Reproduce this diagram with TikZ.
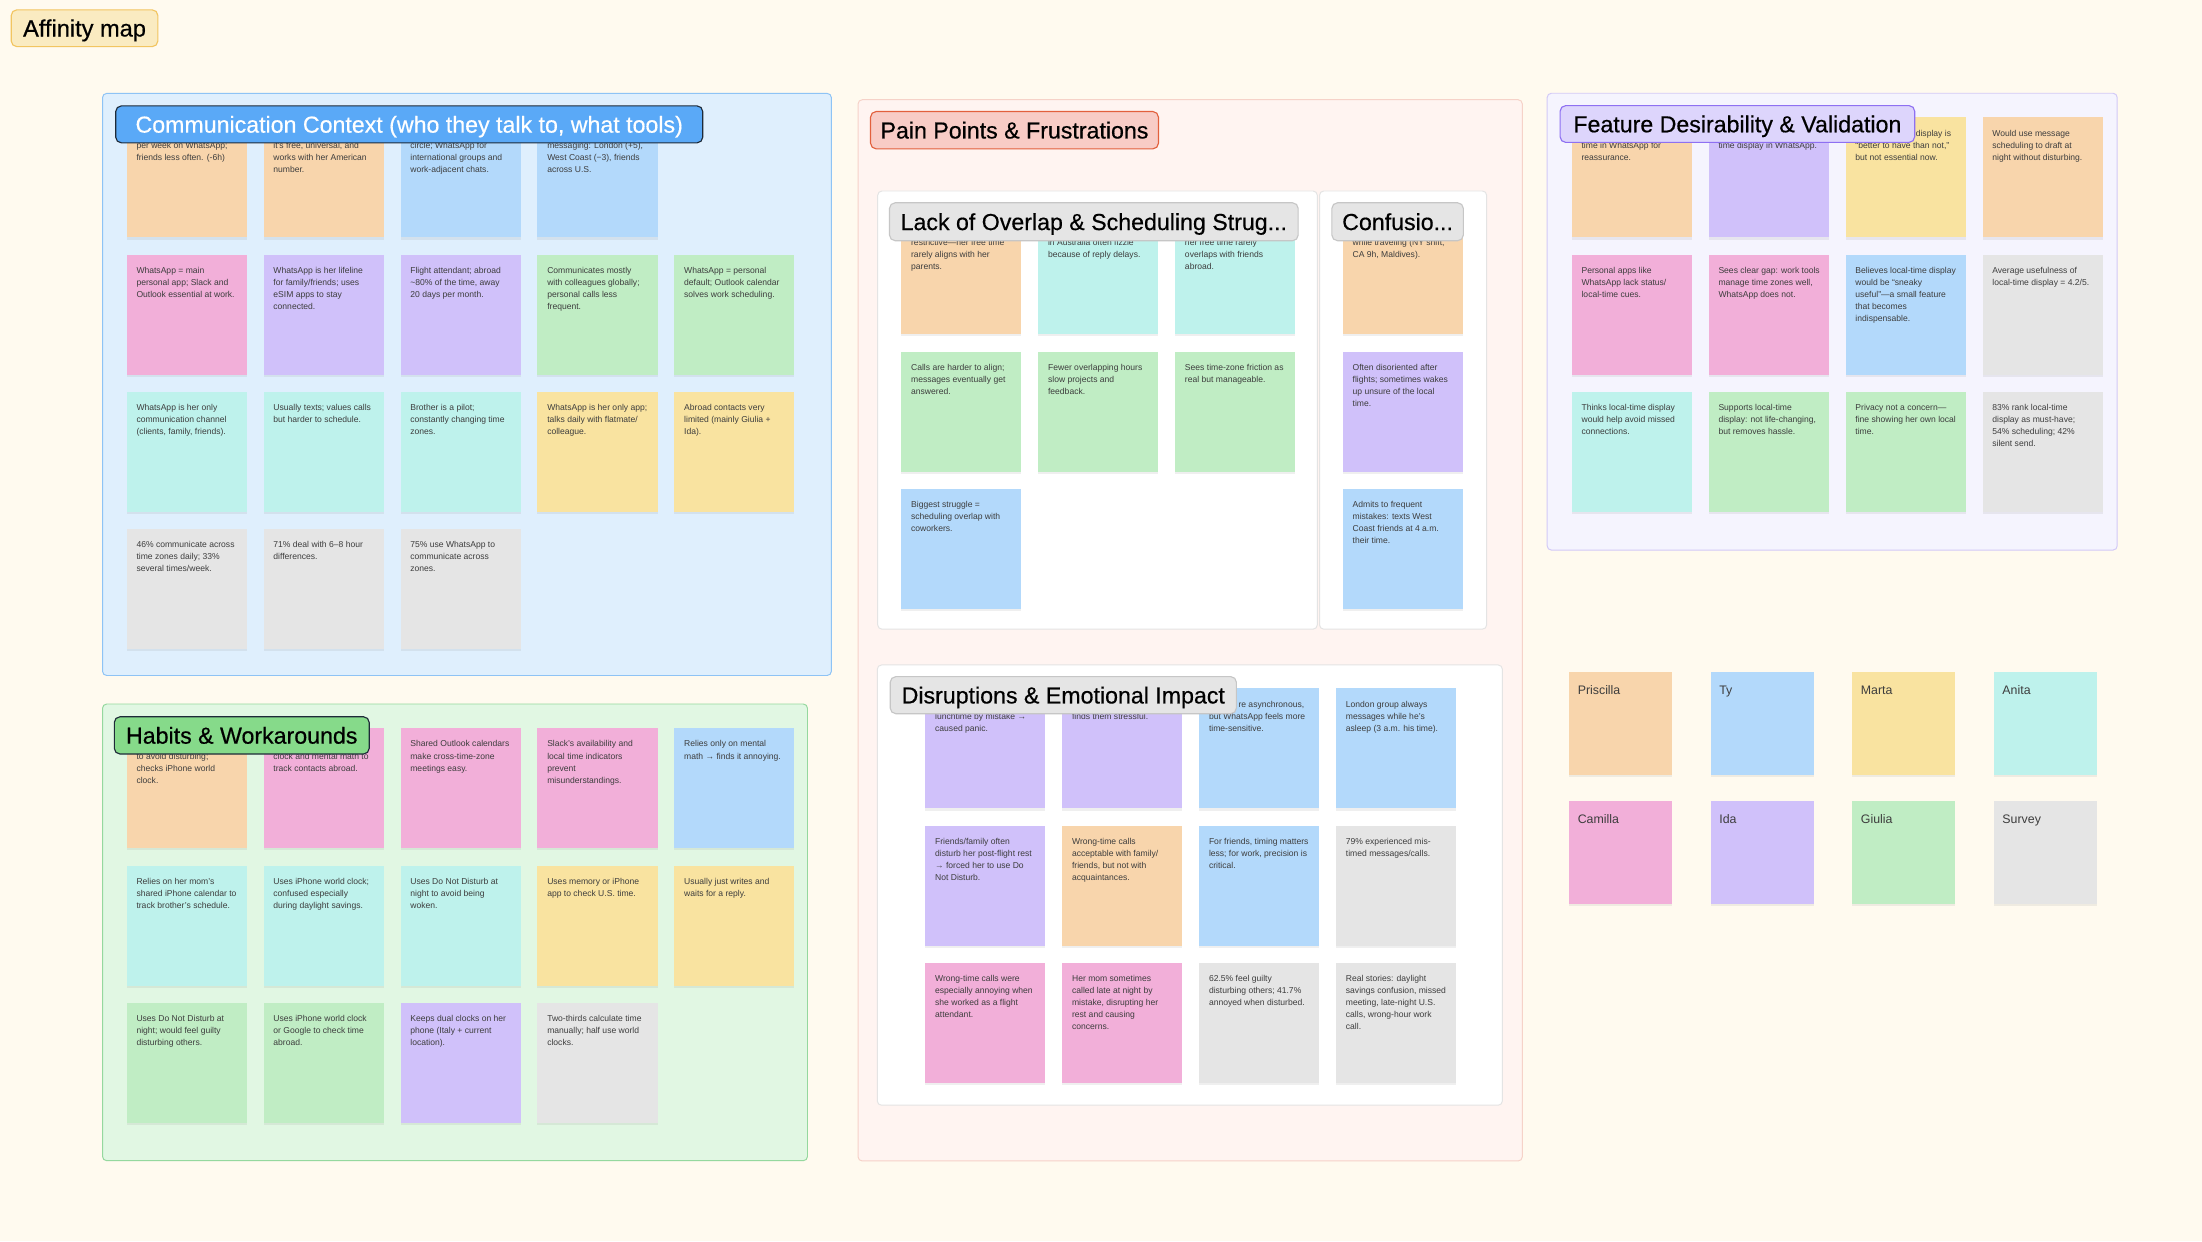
\documentclass[tikz,border=0pt]{standalone}
\usepackage{fontspec}
\setmainfont{Liberation Sans}
\newfontfamily\headfont{Liberation Sans}[FakeBold=0.5]
\usepackage{xcolor}
\usepackage{tikz}
\usetikzlibrary{positioning,shadows}

\definecolor{paper}{HTML}{FFFAEF}
\definecolor{inkNote}{HTML}{3D3D3D}
% sticky note colours (one per participant)
\definecolor{stOrange}{HTML}{F8D5AC}
\definecolor{stBlue}{HTML}{B3D9FB}
\definecolor{stYellow}{HTML}{F9E3A0}
\definecolor{stTeal}{HTML}{BEF2EC}
\definecolor{stPink}{HTML}{F2AFD9}
\definecolor{stPurple}{HTML}{D0C1FA}
\definecolor{stGreen}{HTML}{C0EDC4}
\definecolor{stGray}{HTML}{E5E5E5}
% cluster colours
\definecolor{ccBg}{HTML}{DFEFFD}
\definecolor{ccLine}{HTML}{8EC3F5}
\definecolor{ccHead}{HTML}{5AA9F7}
\definecolor{hwBg}{HTML}{E1F7E3}
\definecolor{hwLine}{HTML}{95D89E}
\definecolor{hwHead}{HTML}{86DA8A}
\definecolor{ppBg}{HTML}{FFF4F1}
\definecolor{ppLine}{HTML}{F6D2C8}
\definecolor{ppHead}{HTML}{F8CCC6}
\definecolor{ppHeadLine}{HTML}{E2603D}
\definecolor{subLine}{HTML}{E4E4E4}
\definecolor{subHead}{HTML}{E5E5E5}
\definecolor{subHeadLine}{HTML}{C6C6C6}
\definecolor{fdBg}{HTML}{F5F4FE}
\definecolor{fdLine}{HTML}{D2C9F7}
\definecolor{fdHead}{HTML}{DDD5FC}
\definecolor{fdHeadLine}{HTML}{8E70F2}
\definecolor{amHead}{HTML}{FAEBC1}
\definecolor{amHeadLine}{HTML}{F2C561}
\definecolor{darkLine}{HTML}{1E2A38}

\newcommand\stickytext[1]{\parbox[t][85.5pt][t]{85.5pt}{\leftskip=7pt\rightskip=0pt plus 1fil\parindent=0pt\rule{0pt}{13.3pt}#1\par}}
\newcommand\keytext[1]{\parbox[t][73.3pt][t]{73.3pt}{\leftskip=6pt\rightskip=0pt plus 1fil\parindent=0pt\rule{0pt}{15.9pt}#1\par}}

\tikzset{
  sticky/.style={fill=#1, inner sep=0pt, text=inkNote,
                 font=\fontsize{6.1}{8.6}\selectfont,
                 drop shadow={shadow xshift=0pt, shadow yshift=-1.5pt, opacity=.12}},
  persona/.style={sticky=#1, font=\fontsize{8.8}{10}\selectfont},
  zone/.style n args={2}{fill=#1, draw=#2, rounded corners=3pt, line width=.7pt},
  zonehead/.style n args={3}{fill=#1, draw=#2, text=#3, rounded corners=4pt, line width=.8pt,
                 anchor=north west, inner xsep=7pt, inner ysep=0pt,
                 text height=11.8pt, text depth=0pt, font=\headfont\fontsize{16.5}{18}\selectfont}
}

\begin{document}
\begin{tikzpicture}[x=1pt, y=1pt, node distance=11.8pt and 11.6pt]
  \fill[paper] (0,0) rectangle (1568,-884);
  \useasboundingbox (0,0) rectangle (1568,-884);

  % cluster frames
  \draw[zone={ccBg}{ccLine}] (73,-66.5) rectangle (592,-481);
  \draw[zone={hwBg}{hwLine}] (73,-501.3) rectangle (575,-826.5);
  \draw[zone={ppBg}{ppLine}] (611,-71) rectangle (1084,-826.7);
  \draw[zone={white}{subLine}] (625,-136) rectangle (938,-448);
  \draw[zone={white}{subLine}] (939.6,-136) rectangle (1058.6,-448);
  \draw[zone={white}{subLine}] (624.7,-473.5) rectangle (1069.8,-787);
  \draw[zone={fdBg}{fdLine}] (1101.7,-66.4) rectangle (1507.6,-391.7);

  % Communication Context
  \node[sticky=stOrange, anchor=north west] (cc11) at (90,-83.4) {\stickytext{\mbox{}\\per week on WhatsApp;\\friends less often. (-6h)}};
  \node[sticky=stOrange, right=of cc11] (cc12) {\stickytext{\mbox{}\\it's free, universal, and\\works with her American\\number.}};
  \node[sticky=stBlue, right=of cc12] (cc13) {\stickytext{\mbox{}\\circle; WhatsApp for\\international groups and\\work-adjacent chats.}};
  \node[sticky=stBlue, right=of cc13] (cc14) {\stickytext{\mbox{}\\messaging: London (+5),\\West Coast (−3), friends\\across U.S.}};
  \node[sticky=stPink, below=of cc11] (cc21) {\stickytext{WhatsApp = main\\personal app; Slack and\\Outlook essential at work.}};
  \node[sticky=stPurple, right=of cc21] (cc22) {\stickytext{WhatsApp is her lifeline\\for family/friends; uses\\eSIM apps to stay\\connected.}};
  \node[sticky=stPurple, right=of cc22] (cc23) {\stickytext{Flight attendant; abroad\\\textasciitilde80\% of the time, away\\20 days per month.}};
  \node[sticky=stGreen, right=of cc23] (cc24) {\stickytext{Communicates mostly\\with colleagues globally;\\personal calls less\\frequent.}};
  \node[sticky=stGreen, right=of cc24] (cc25) {\stickytext{WhatsApp = personal\\default; Outlook calendar\\solves work scheduling.}};
  \node[sticky=stTeal, below=of cc21] (cc31) {\stickytext{WhatsApp is her only\\communication channel\\(clients, family, friends).}};
  \node[sticky=stTeal, right=of cc31] (cc32) {\stickytext{Usually texts; values calls\\but harder to schedule.}};
  \node[sticky=stTeal, right=of cc32] (cc33) {\stickytext{Brother is a pilot;\\constantly changing time\\zones.}};
  \node[sticky=stYellow, right=of cc33] (cc34) {\stickytext{WhatsApp is her only app;\\talks daily with flatmate/\\colleague.}};
  \node[sticky=stYellow, right=of cc34] (cc35) {\stickytext{Abroad contacts very\\limited (mainly Giulia +\\Ida).}};
  \node[sticky=stGray, below=of cc31] (cc41) {\stickytext{46\% communicate across\\time zones daily; 33\%\\several times/week.}};
  \node[sticky=stGray, right=of cc41] (cc42) {\stickytext{71\% deal with 6–8 hour\\differences.}};
  \node[sticky=stGray, right=of cc42] (cc43) {\stickytext{75\% use WhatsApp to\\communicate across\\zones.}};

  % Habits & Workarounds
  \node[sticky=stOrange, anchor=north west] (hw11) at (90,-518.4) {\stickytext{\mbox{}\\to avoid disturbing;\\checks iPhone world\\clock.}};
  \node[sticky=stPink, right=of hw11] (hw12) {\stickytext{\mbox{}\\clock and mental math to\\track contacts abroad.}};
  \node[sticky=stPink, right=of hw12] (hw13) {\stickytext{Shared Outlook calendars\\make cross-time-zone\\meetings easy.}};
  \node[sticky=stPink, right=of hw13] (hw14) {\stickytext{Slack's availability and\\local time indicators\\prevent\\misunderstandings.}};
  \node[sticky=stBlue, right=of hw14] (hw15) {\stickytext{Relies only on mental\\math → finds it annoying.}};
  \node[sticky=stTeal, below=of hw11] (hw21) {\stickytext{Relies on her mom's\\shared iPhone calendar to\\track brother's schedule.}};
  \node[sticky=stTeal, right=of hw21] (hw22) {\stickytext{Uses iPhone world clock;\\confused especially\\during daylight savings.}};
  \node[sticky=stTeal, right=of hw22] (hw23) {\stickytext{Uses Do Not Disturb at\\night to avoid being\\woken.}};
  \node[sticky=stYellow, right=of hw23] (hw24) {\stickytext{Uses memory or iPhone\\app to check U.S. time.}};
  \node[sticky=stYellow, right=of hw24] (hw25) {\stickytext{Usually just writes and\\waits for a reply.}};
  \node[sticky=stGreen, below=of hw21] (hw31) {\stickytext{Uses Do Not Disturb at\\night; would feel guilty\\disturbing others.}};
  \node[sticky=stGreen, right=of hw31] (hw32) {\stickytext{Uses iPhone world clock\\or Google to check time\\abroad.}};
  \node[sticky=stPurple, right=of hw32] (hw33) {\stickytext{Keeps dual clocks on her\\phone (Italy + current\\location).}};
  \node[sticky=stGray, right=of hw33] (hw34) {\stickytext{Two-thirds calculate time\\manually; half use world\\clocks.}};

  % Pain Points: lack of overlap
  \node[sticky=stOrange, anchor=north west] (lo11) at (641.6,-152.4) {\stickytext{\mbox{}\\restrictive—her free time\\rarely aligns with her\\parents.}};
  \node[sticky=stTeal, right=of lo11] (lo12) {\stickytext{\mbox{}\\in Australia often fizzle\\because of reply delays.}};
  \node[sticky=stTeal, right=of lo12] (lo13) {\stickytext{\mbox{}\\her free time rarely\\overlaps with friends\\abroad.}};
  \node[sticky=stGreen, below=of lo11] (lo21) {\stickytext{Calls are harder to align;\\messages eventually get\\answered.}};
  \node[sticky=stGreen, right=of lo21] (lo22) {\stickytext{Fewer overlapping hours\\slow projects and\\feedback.}};
  \node[sticky=stGreen, right=of lo22] (lo23) {\stickytext{Sees time-zone friction as\\real but manageable.}};
  \node[sticky=stBlue, below=of lo21] (lo31) {\stickytext{Biggest struggle =\\scheduling overlap with\\coworkers.}};

  % Pain Points: confusion
  \node[sticky=stOrange, anchor=north west] (cf1) at (956,-152.4) {\stickytext{\mbox{}\\while traveling (NY shift,\\CA 9h, Maldives).}};
  \node[sticky=stPurple, below=of cf1] (cf2) {\stickytext{Often disoriented after\\flights; sometimes wakes\\up unsure of the local\\time.}};
  \node[sticky=stBlue, below=of cf2] (cf3) {\stickytext{Admits to frequent\\mistakes: texts West\\Coast friends at 4 a.m.\\their time.}};

  % Pain Points: disruptions
  \node[sticky=stPurple, anchor=north west] (de11) at (658.7,-490) {\stickytext{\mbox{}\\lunchtime by mistake →\\caused panic.}};
  \node[sticky=stPurple, right=of de11] (de12) {\stickytext{\mbox{}\\finds them stressful.}};
  \node[sticky=stBlue, right=of de12] (de13) {\stickytext{\hspace*{21pt}re asynchronous,\\but WhatsApp feels more\\time-sensitive.}};
  \node[sticky=stBlue, right=of de13] (de14) {\stickytext{London group always\\messages while he's\\asleep (3 a.m. his time).}};
  \node[sticky=stPurple, below=of de11] (de21) {\stickytext{Friends/family often\\disturb her post-flight rest\\→ forced her to use Do\\Not Disturb.}};
  \node[sticky=stOrange, right=of de21] (de22) {\stickytext{Wrong-time calls\\acceptable with family/\\friends, but not with\\acquaintances.}};
  \node[sticky=stBlue, right=of de22] (de23) {\stickytext{For friends, timing matters\\less; for work, precision is\\critical.}};
  \node[sticky=stGray, right=of de23] (de24) {\stickytext{79\% experienced mis-\\timed messages/calls.}};
  \node[sticky=stPink, below=of de21] (de31) {\stickytext{Wrong-time calls were\\especially annoying when\\she worked as a flight\\attendant.}};
  \node[sticky=stPink, right=of de31] (de32) {\stickytext{Her mom sometimes\\called late at night by\\mistake, disrupting her\\rest and causing\\concerns.}};
  \node[sticky=stGray, right=of de32] (de33) {\stickytext{62.5\% feel guilty\\disturbing others; 41.7\%\\annoyed when disturbed.}};
  \node[sticky=stGray, right=of de33] (de34) {\stickytext{Real stories: daylight\\savings confusion, missed\\meeting, late-night U.S.\\calls, wrong-hour work\\call.}};

  % Feature Desirability
  \node[sticky=stOrange, anchor=north west] (fd11) at (1119,-83.4) {\stickytext{\mbox{}\\time in WhatsApp for\\reassurance.}};
  \node[sticky=stPurple, right=of fd11] (fd12) {\stickytext{\mbox{}\\time display in WhatsApp.}};
  \node[sticky=stYellow, right=of fd12] (fd13) {\stickytext{\hspace*{43pt}display is\\``better to have than not,''\\but not essential now.}};
  \node[sticky=stOrange, right=of fd13] (fd14) {\stickytext{Would use message\\scheduling to draft at\\night without disturbing.}};
  \node[sticky=stPink, below=of fd11] (fd21) {\stickytext{Personal apps like\\WhatsApp lack status/\\local-time cues.}};
  \node[sticky=stPink, right=of fd21] (fd22) {\stickytext{Sees clear gap: work tools\\manage time zones well,\\WhatsApp does not.}};
  \node[sticky=stBlue, right=of fd22] (fd23) {\stickytext{Believes local-time display\\would be ``sneaky\\useful''—a small feature\\that becomes\\indispensable.}};
  \node[sticky=stGray, right=of fd23] (fd24) {\stickytext{Average usefulness of\\local-time display = 4.2/5.}};
  \node[sticky=stTeal, below=of fd21] (fd31) {\stickytext{Thinks local-time display\\would help avoid missed\\connections.}};
  \node[sticky=stGreen, right=of fd31] (fd32) {\stickytext{Supports local-time\\display: not life-changing,\\but removes hassle.}};
  \node[sticky=stGreen, right=of fd32] (fd33) {\stickytext{Privacy not a concern—\\fine showing her own local\\time.}};
  \node[sticky=stGray, right=of fd33] (fd34) {\stickytext{83\% rank local-time\\display as must-have;\\54\% scheduling; 42\%\\silent send.}};

  % participant key
  \node[persona=stOrange, anchor=north west] (kPriscilla) at (1117.3,-478.5) {\keytext{Priscilla}};
  \node[persona=stBlue, right=27.1pt of kPriscilla] (kTy) {\keytext{Ty}};
  \node[persona=stYellow, right=27.1pt of kTy] (kMarta) {\keytext{Marta}};
  \node[persona=stTeal, right=27.1pt of kMarta] (kAnita) {\keytext{Anita}};
  \node[persona=stPink, below=17.9pt of kPriscilla] (kCamilla) {\keytext{Camilla}};
  \node[persona=stPurple, right=27.1pt of kCamilla] (kIda) {\keytext{Ida}};
  \node[persona=stGreen, right=27.1pt of kIda] (kGiulia) {\keytext{Giulia}};
  \node[persona=stGray, right=27.1pt of kGiulia] (kSurvey) {\keytext{Survey}};

  % headers
  \node[zonehead={amHead}{amHeadLine}{black}, minimum width=104.4pt, minimum height=26.2pt, font=\headfont\fontsize{16.8}{19}\selectfont] (title) at (7.6,-6.6) {Affinity map};
  \node[zonehead={ccHead}{darkLine}{white}, minimum width=418pt, minimum height=26.3pt] (ccHeadNode) at (82,-75) {Communication Context (who they talk to, what tools)};
  \node[zonehead={hwHead}{darkLine}{black}, minimum width=181.5pt, minimum height=26.5pt] (hwHeadNode) at (81,-510) {Habits \& Workarounds};
  \node[zonehead={ppHead}{ppHeadLine}{black}, minimum width=205pt, minimum height=26.6pt] (ppHeadNode) at (619.5,-79) {Pain Points \& Frustrations};
  \node[zonehead={subHead}{subHeadLine}{black}, minimum width=291pt, minimum height=27pt] (loHeadNode) at (633,-144) {Lack of Overlap \& Scheduling Strug...};
  \node[zonehead={subHead}{subHeadLine}{black}, minimum width=93.6pt, minimum height=27pt] (cfHeadNode) at (948,-144) {Confusio...};
  \node[zonehead={subHead}{subHeadLine}{black}, minimum width=246.5pt, minimum height=26.4pt] (deHeadNode) at (633.5,-481.4) {Disruptions \& Emotional Impact};
  \node[zonehead={fdHead}{fdHeadLine}{black}, minimum width=252.5pt, minimum height=26.2pt] (fdHeadNode) at (1110.5,-74.8) {Feature Desirability \& Validation};
\end{tikzpicture}
\end{document}
